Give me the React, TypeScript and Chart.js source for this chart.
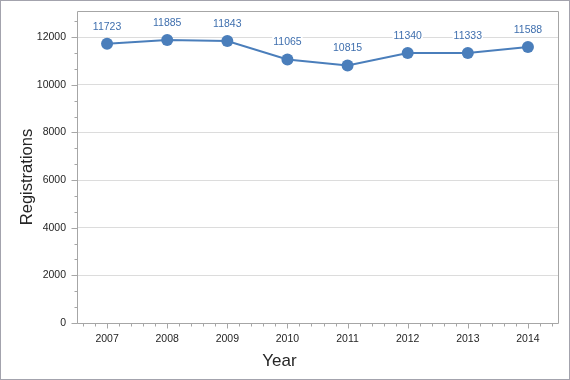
import React, { useEffect, useRef } from 'react';
import { Chart, registerables } from 'chart.js';

Chart.register(...registerables);

const years: string[] = ['2007', '2008', '2009', '2010', '2011', '2012', '2013', '2014'];
const registrations: number[] = [11723, 11885, 11843, 11065, 10815, 11340, 11333, 11588];
const yTickValues: number[] = [0, 2000, 4000, 6000, 8000, 10000, 12000];
const yMin = 0;
const yMax = 13100;
const yStep = 2000;
const xTitle = 'Year';
const yTitle = 'Registrations';

const FONT = '"Liberation Sans", Arial, sans-serif';
const LINE_COLOR = '#4a7ebb';
const LABEL_COLOR = '#3f6fae';
const AXIS_COLOR = '#a6a6a6';
const GRID_COLOR = '#dcdcdc';
const TEXT_COLOR = '#262626';

export default function App() {
  const ref = useRef<HTMLCanvasElement>(null);

  useEffect(() => {
    if (!ref.current) return;

    const framePlugin = {
      id: 'frameTicks',
      beforeDatasetsDraw(chart: any) {
        const { ctx, chartArea: a, scales } = chart;
        const ys = scales.y;
        const xs = scales.x;
        const L = Math.round(a.left) + 0.5;
        const R = Math.round(a.right) + 0.5;
        const T = Math.round(a.top) + 0.5;
        const B = Math.round(a.bottom) + 0.5;
        ctx.save();
        ctx.strokeStyle = AXIS_COLOR;
        ctx.lineWidth = 1;
        ctx.beginPath();
        ctx.rect(L, T, R - L, B - T);
        ctx.stroke();
        // y ticks (major + 2 minor)
        ctx.beginPath();
        for (let i = 0; ; i++) {
          const v = (i * yStep) / 3;
          if (v > yMax) break;
          const p = Math.round(ys.getPixelForValue(v)) + 0.5;
          const len = i % 3 === 0 ? 6 : 3;
          ctx.moveTo(L - len, p);
          ctx.lineTo(L, p);
        }
        // x ticks (major at categories + minor every 1/5)
        for (let i = 0; i < years.length; i++) {
          for (let k = -2; k <= 2; k++) {
            const p = Math.round(xs.getPixelForValue(i + k / 5)) + 0.5;
            const len = k === 0 ? 5 : 3;
            ctx.moveTo(p, B);
            ctx.lineTo(p, B + len);
          }
        }
        ctx.stroke();

        // y axis title
        ctx.save();
        ctx.translate(30.5, 176);
        ctx.rotate(-Math.PI / 2);
        ctx.font = `16.5px ${FONT}`;
        ctx.fillStyle = TEXT_COLOR;
        ctx.textAlign = 'center';
        ctx.textBaseline = 'alphabetic';
        ctx.fillText(yTitle, 0, 0);
        ctx.restore();

        ctx.restore();
      },
      afterDatasetsDraw(chart: any) {
        const { ctx } = chart;
        const meta = chart.getDatasetMeta(0);
        ctx.save();
        ctx.font = `10.5px ${FONT}`;
        ctx.textAlign = 'center';
        ctx.textBaseline = 'middle';
        meta.data.forEach((pt: any, i: number) => {
          const txt = String(registrations[i]);
          const w = ctx.measureText(txt).width;
          const cy = pt.y - 17;
          ctx.fillStyle = '#ffffff';
          ctx.fillRect(pt.x - w / 2 - 1, cy - 6, w + 2, 12);
          ctx.fillStyle = LABEL_COLOR;
          ctx.fillText(txt, pt.x, cy);
        });
        ctx.restore();
      },
    };

    const chart = new Chart(ref.current, {
      type: 'line',
      data: {
        labels: years,
        datasets: [
          {
            data: registrations,
            borderColor: LINE_COLOR,
            backgroundColor: LINE_COLOR,
            borderWidth: 2,
            pointRadius: 6,
            pointHoverRadius: 6,
            pointBorderWidth: 0,
            pointBackgroundColor: LINE_COLOR,
            tension: 0,
            fill: false,
          },
        ],
      },
      options: {
        animation: false,
        responsive: false,
        events: [],
        layout: { padding: { top: 10, right: 11, left: 0, bottom: 0 } },
        plugins: {
          legend: { display: false },
          tooltip: { enabled: false },
          title: {
            display: true,
            text: xTitle,
            position: 'bottom',
            color: TEXT_COLOR,
            font: { family: FONT, size: 17, weight: 'normal', lineHeight: 1.2 },
            padding: { top: 4, bottom: 7.3 },
          },
        },
        scales: {
          x: {
            type: 'category',
            offset: true,
            grid: { display: false, drawTicks: false },
            border: { display: false },
            ticks: { color: TEXT_COLOR, font: { family: FONT, size: 10.5 }, padding: 10, maxRotation: 0 },
            afterFit(scale: any) {
              scale.height = 378 - 322 - 31.7;
              scale.paddingLeft = 0;
              scale.paddingRight = 0;
            },
          },
          y: {
            min: yMin,
            max: yMax,
            grid: { color: GRID_COLOR, drawTicks: false },
            border: { display: false },
            afterBuildTicks(scale: any) {
              scale.ticks = yTickValues.map((v) => ({ value: v }));
            },
            ticks: {
              color: TEXT_COLOR,
              font: { family: FONT, size: 10.5 },
              padding: 11,
              callback: (v: any) => String(v),
            },
            title: { display: false, text: yTitle },
            afterFit(scale: any) {
              scale.width = 76;
              scale.paddingTop = 0;
              scale.paddingBottom = 0;
            },
          },
        },
      },
      plugins: [framePlugin],
    } as any);

    return () => chart.destroy();
  }, []);

  return (
    <div
      style={{
        position: 'fixed',
        left: 0,
        top: 0,
        width: 570,
        height: 380,
        boxSizing: 'border-box',
        border: '1px solid #a3a3ad',
        background: '#ffffff',
      }}
    >
      <canvas ref={ref} width={568} height={378} style={{ display: 'block' }} />
    </div>
  );
}
